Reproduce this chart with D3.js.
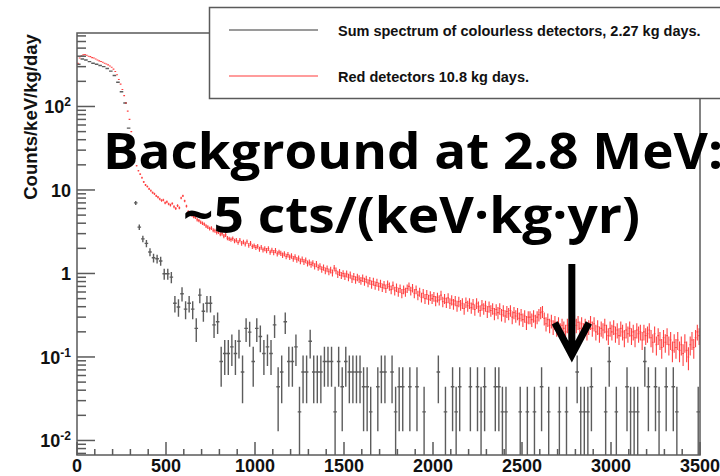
<!DOCTYPE html>
<html>
<head>
<meta charset="utf-8">
<script src="https://cdn.jsdelivr.net/npm/d3@7"></script>
<style>
  body { margin: 0; background: #fff; }
  svg { display: block; }
</style>
</head>
<body>
<script>
// colourless sum is binned in 20 keV steps, red detectors in 10 keV steps
const binColourless = 20;
const binRed = 10;
const exposureColourless = 2.27;  // kg days
const exposureRed = 10.8;         // kg days

// colourless detectors, raw counts per 20 keV bin
const colourlessCounts = [
  14530, 16800, 16340, 15660, 14980, 14530, 14070, 13620, 12940, 12030,
  10670, 8850, 6810, 4990, 2500, 950, 318, 163, 118, 104,
  82, 70, 68, 64, 45, 45, 41, 20, 18, 26,
  17, 20, 17, 10, 25, 16, 20, 20, 11, 12,
  4, 5, 5, 6, 5, 7, 3, 10, 9, 4,
  10, 8, 5, 6, 5, 11, 2, 3, 12, 4,
  4, 6, 1, 3, 3, 7, 3, 3, 3, 4,
  4, 4, 1, 4, 2, 4, 3, 3, 3, 3,
  2, 2, 1, 0, 2, 3, 3, 0, 3, 1,
  2, 2, 0, 2, 0, 2, 0, 1, 0, 0,
  0, 3, 0, 1, 0, 2, 1, 2, 0, 0,
  2, 0, 2, 1, 2, 0, 0, 2, 2, 1,
  1, 0, 0, 0, 1, 0, 1, 0, 1, 0,
  2, 0, 1, 0, 0, 1, 0, 1, 0, 0,
  3, 1, 1, 1, 2, 0, 0, 0, 1, 4,
  0, 1, 0, 0, 2, 1, 1, 1, 0, 4,
  2, 0, 2, 1, 0, 2, 0, 2, 1, 0,
  0, 0, 0, 0, 1
];

// red detectors, counts/keV/kg/day per 10 keV bin
const redRates = [
  330, 380, 405, 415, 420, 410, 400, 395, 385, 380,
  370, 360, 352, 345, 338, 330, 322, 315, 305, 295,
  280, 262, 240, 210, 185, 160, 135, 110, 88, 70,
  50, 34, 24, 19.5, 17, 15.5, 14, 12.5, 11.5, 11,
  10.3, 9.8, 9.3, 9.0, 8.5, 8.2, 7.8, 7.5, 7.6, 7.0,
  7.2, 6.8, 6.6, 6.9, 6.3, 6.0, 6.5, 6.1, 8.0, 8.5,
  7.4, 6.4, 5.5, 5.2, 5.0, 4.8, 4.7, 4.4, 4.3, 4.1,
  4.0, 3.9, 3.7, 3.6, 3.45, 3.5, 3.3, 3.25, 3.1, 3.15,
  2.95, 3.0, 2.8, 2.9, 2.65, 2.6, 2.55, 2.62, 2.45, 2.5,
  2.35, 2.5, 2.3, 2.38, 2.25, 2.4, 2.18, 2.3, 2.1, 2.15,
  2.05, 2.12, 1.96, 2.06, 1.92, 1.98, 1.88, 1.99, 1.8, 1.9,
  1.78, 1.88, 1.72, 1.8, 1.75, 1.66, 1.72, 1.6, 1.68, 1.57,
  1.62, 1.5, 1.58, 1.46, 1.52, 1.4, 1.48, 1.38, 1.44, 1.32,
  1.36, 1.28, 1.33, 1.22, 1.3, 1.18, 1.22, 1.12, 1.18, 1.08,
  1.14, 1.05, 1.1, 1.02, 1.16, 1.08, 0.98, 1.03, 0.95, 1.0,
  0.93, 0.99, 0.9, 0.96, 0.86, 0.92, 0.84, 0.9, 0.86, 0.82,
  0.88, 0.8, 0.85, 0.77, 0.82, 0.74, 0.8, 0.72, 0.78, 0.7,
  0.76, 0.68, 0.73, 0.66, 0.74, 0.7, 0.64, 0.72, 0.62, 0.68,
  0.6, 0.66, 0.58, 0.64, 0.6, 0.66, 0.7, 0.62, 0.67, 0.58,
  0.64, 0.55, 0.6, 0.52, 0.58, 0.5, 0.56, 0.49, 0.54, 0.5,
  0.53, 0.47, 0.52, 0.48, 0.55, 0.46, 0.5, 0.45, 0.51, 0.44,
  0.48, 0.43, 0.47, 0.41, 0.46, 0.42, 0.44, 0.38, 0.45, 0.41,
  0.44, 0.39, 0.43, 0.37, 0.44, 0.4, 0.36, 0.42, 0.38, 0.41,
  0.35, 0.4, 0.36, 0.38, 0.33, 0.37, 0.34, 0.38, 0.32, 0.36,
  0.31, 0.35, 0.33, 0.36, 0.3, 0.34, 0.31, 0.33, 0.29, 0.32,
  0.28, 0.31, 0.26, 0.3, 0.3, 0.28, 0.31, 0.27, 0.3, 0.32,
  0.34, 0.35, 0.29, 0.25, 0.28, 0.24, 0.27, 0.23, 0.26, 0.22,
  0.25, 0.21, 0.24, 0.22, 0.2, 0.24, 0.21, 0.25, 0.23, 0.27,
  0.24, 0.26, 0.22, 0.25, 0.21, 0.24, 0.2, 0.23, 0.26, 0.22,
  0.25, 0.2, 0.23, 0.19, 0.22, 0.21, 0.24, 0.2, 0.18, 0.22,
  0.2, 0.23, 0.19, 0.21, 0.18, 0.22, 0.2, 0.17, 0.21, 0.19,
  0.22, 0.18, 0.2, 0.17, 0.21, 0.19, 0.2, 0.16, 0.2, 0.18,
  0.19, 0.21, 0.17, 0.15, 0.19, 0.14, 0.18, 0.16, 0.13, 0.17,
  0.15, 0.18, 0.14, 0.16, 0.12, 0.15, 0.13, 0.16, 0.12, 0.14,
  0.11, 0.15, 0.12, 0.1, 0.14, 0.16, 0.13, 0.17, 0.2, 0.18
];

const xTicks = [0, 500, 1000, 1500, 2000, 2500, 3000, 3500];
const yTicks = [0.01, 0.1, 1, 10, 100];
const yTickLabels = [["10", "-2"], ["10", "-1"], ["1", ""], ["10", ""], ["10", "2"]];
const yTitle = "Counts/keV/kg/day";
const legendLabels = ["Sum spectrum of colourless detectors, 2.27 kg days.", "Red detectors 10.8 kg days."];
const headline = ["Background at 2.8 MeV:", "~5 cts/(keV\u00b7kg\u00b7yr)"];
const arrowEnergy = 2780;
const arrowFrom = 1.3, arrowTo = 0.1;

const width = 720, height = 476;
const yMin = Math.pow(10, -2.174), yMax = Math.pow(10, 2.88);

var x = d3.scaleLinear().domain([0, 3500]).range([77, 700]);
var y = d3.scaleLog().domain([yMin, yMax]).range([455, 33]);

var svg = d3.select("body").append("svg")
  .attr("width", width)
  .attr("height", height)
  .style("background", "#fff");

svg.append("clipPath").attr("id", "frame")
  .append("rect")
  .attr("x", x(0)).attr("y", y(yMax))
  .attr("width", x(3500) - x(0)).attr("height", y(yMin) - y(yMax));

var plot = svg.append("g").attr("clip-path", "url(#frame)");

// rate and poisson error per bin; input is either raw counts or a rate
function toBins(values, bw, exposure, asCounts) {
  var k = 1 / (bw * exposure);
  return values.map(function(v, i) {
    var n = asCounts ? v : v / k;
    return {e0: i * bw, e1: (i + 1) * bw, v: n * k, err: Math.sqrt(n) * k};
  }).filter(function(d) { return d.v > 0; });
}

function drawSpectrum(bins, color, opacity, sw) {
  plot.append("g")
    .attr("fill", "none")
    .attr("stroke", color)
    .attr("stroke-width", sw)
    .attr("stroke-opacity", opacity)
    .selectAll("path")
    .data(bins)
    .join("path")
    .attr("d", function(d) {
      var x0 = x(d.e0), x1 = x(d.e1), xc = (x0 + x1) / 2;
      var yv = y(d.v), yh = y(d.v + d.err), yl = y(Math.max(d.v - d.err, yMin));
      return "M" + x0 + "," + yv + "H" + x1 + "M" + xc + "," + yh + "V" + yl;
    });
}

drawSpectrum(toBins(colourlessCounts, binColourless, exposureColourless, true), "#333", 0.8, 1.4);
drawSpectrum(toBins(redRates, binRed, exposureRed, false), "#ff0000", 0.75, 1.1);

// frame
var axisColor = "#5a5a5a";
svg.append("rect")
  .attr("x", x(0)).attr("y", y(yMax))
  .attr("width", x(3500) - x(0)).attr("height", y(yMin) - y(yMax))
  .attr("fill", "none")
  .attr("stroke", axisColor)
  .attr("stroke-width", 1.5);

// log y ticks, long on decades
var yTickVals = [];
for (var e = -3; e <= 3; e++) {
  for (var m = 1; m <= 9; m++) {
    var v = m * Math.pow(10, e);
    if (v >= yMin && v <= yMax) yTickVals.push({v: v, major: m == 1});
  }
}
svg.append("g")
  .selectAll("line")
  .data(yTickVals)
  .join("line")
  .attr("x1", x(0))
  .attr("x2", function(d) { return x(0) + (d.major ? 18 : 9); })
  .attr("y1", function(d) { return y(d.v); })
  .attr("y2", function(d) { return y(d.v); })
  .attr("stroke", axisColor)
  .attr("stroke-width", 1.5);

// x ticks every 100 keV
var xTickVals = d3.range(0, 3501, 100);
svg.append("g")
  .selectAll("line")
  .data(xTickVals)
  .join("line")
  .attr("x1", function(d) { return x(d); })
  .attr("x2", function(d) { return x(d); })
  .attr("y1", y(yMin))
  .attr("y2", function(d) { return y(yMin) - (d % 500 == 0 ? 13 : 6); })
  .attr("stroke", axisColor)
  .attr("stroke-width", 1.5);

var labelFont = "'Liberation Sans', Arial, sans-serif";

svg.append("g")
  .selectAll("text")
  .data(xTicks)
  .join("text")
  .attr("x", function(d) { return x(d); })
  .attr("y", 472)
  .attr("text-anchor", "middle")
  .style("font-family", labelFont)
  .style("font-weight", "bold")
  .style("font-size", "18px")
  .attr("fill", "#111")
  .text(function(d) { return d; });

var yLab = svg.append("g")
  .selectAll("text")
  .data(yTicks)
  .join("text")
  .attr("x", 71)
  .attr("y", function(d) { return y(d) + 7; })
  .attr("text-anchor", "end")
  .style("font-family", labelFont)
  .style("font-weight", "bold")
  .style("font-size", "18px")
  .attr("fill", "#111");
yLab.each(function(d, i) {
  var t = d3.select(this);
  t.append("tspan").text(yTickLabels[i][0]);
  if (yTickLabels[i][1]) {
    t.append("tspan").attr("dy", -7).style("font-size", "12px").text(yTickLabels[i][1]);
  }
});

svg.append("text")
  .attr("transform", "translate(37," + 117 + ") rotate(-90)")
  .attr("text-anchor", "middle")
  .style("font-family", labelFont)
  .style("font-weight", "bold")
  .style("font-size", "18.5px")
  .attr("fill", "#111")
  .text(yTitle);

// legend
var legend = svg.append("g");
legend.append("rect")
  .attr("x", 209.5).attr("y", 7.5)
  .attr("width", 530).attr("height", 91)
  .attr("fill", "#fff")
  .attr("stroke", axisColor)
  .attr("stroke-width", 1.5);
var legendColors = ["#9a9a9a", "#ff9c9c"];
legendLabels.forEach(function(label, i) {
  var ly = 30 + i * 46;
  legend.append("line")
    .attr("x1", 229).attr("x2", 318)
    .attr("y1", ly).attr("y2", ly)
    .attr("stroke", legendColors[i])
    .attr("stroke-width", 2);
  legend.append("text")
    .attr("x", 338).attr("y", ly + 6)
    .style("font-family", labelFont)
    .style("font-weight", "bold")
    .style("font-size", "14.5px")
    .attr("fill", "#111")
    .text(label);
});

// headline over the plot
var headFont = "'Open Sans', 'Liberation Sans', sans-serif";
var headPos = [{x: 103, y: 169, w: 620}, {x: 183, y: 233, w: 457}];
headline.forEach(function(line, i) {
  svg.append("text")
    .attr("x", headPos[i].x).attr("y", headPos[i].y)
    .attr("textLength", headPos[i].w)
    .attr("lengthAdjust", "spacingAndGlyphs")
    .style("font-family", headFont)
    .style("font-weight", "bold")
    .style("font-size", "50px")
    .attr("fill", "#000")
    .text(line);
});

// arrow down to 2.8 MeV
var ax = x(arrowEnergy), ayTop = y(arrowFrom), ayTip = y(arrowTo);
svg.append("path")
  .attr("d", "M" + ax + "," + ayTop + "V" + (ayTip - 3) +
             "M" + (ax - 17) + "," + (ayTip - 34) + "L" + ax + "," + (ayTip - 2) + "L" + (ax + 17) + "," + (ayTip - 34))
  .attr("fill", "none")
  .attr("stroke", "#000")
  .attr("stroke-width", 7)
  .attr("stroke-linejoin", "miter");
</script>
</body>
</html>
